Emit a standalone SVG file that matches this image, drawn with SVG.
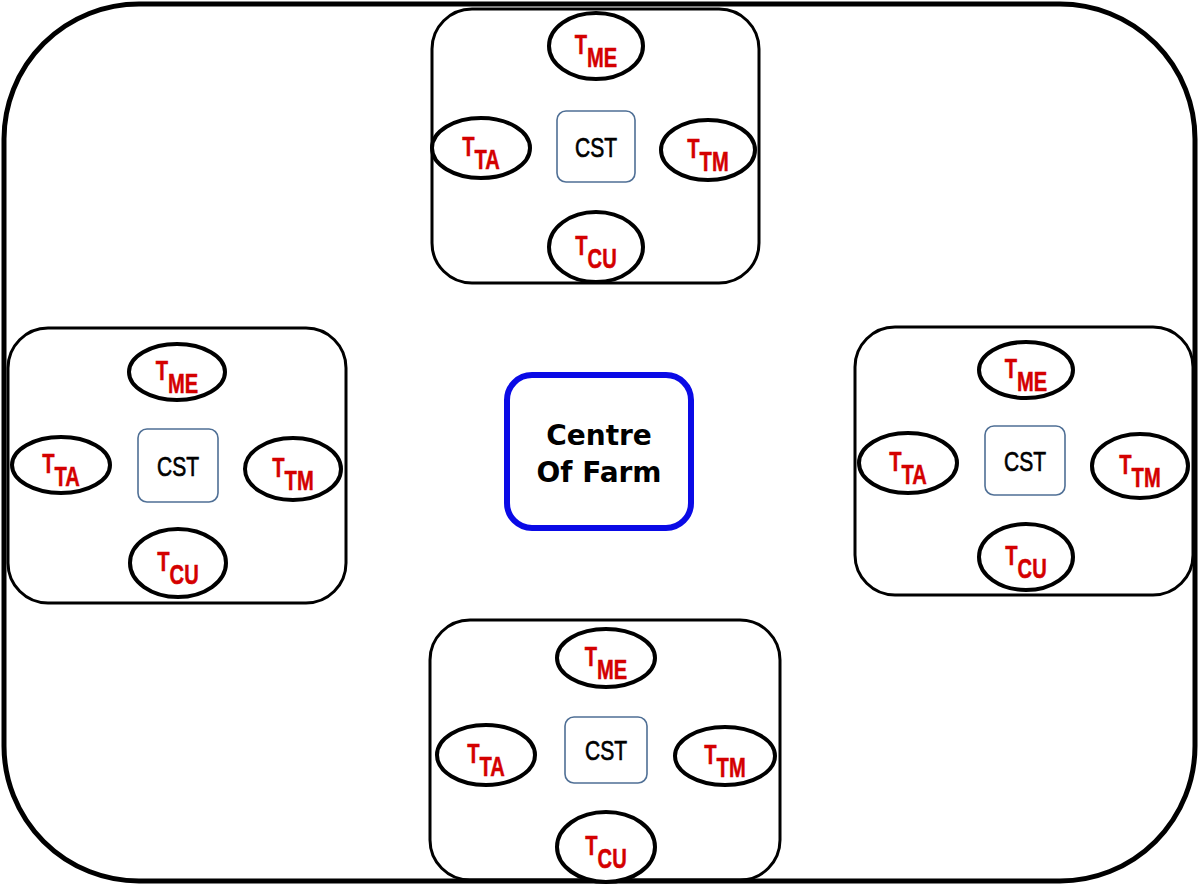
<svg xmlns="http://www.w3.org/2000/svg" width="1200" height="886" viewBox="0 0 1200 886">
<style>
.frame{fill:#fff;stroke:#000;stroke-width:5}
.box{fill:none;stroke:#000;stroke-width:3}
.ell{fill:#fff;stroke:#000;stroke-width:4}
.cst{fill:#fff;stroke:#4f6f95;stroke-width:1.6}
.lbl{font-family:"Liberation Sans",Arial,sans-serif;font-weight:bold;font-size:28px;fill:#d40000;stroke:#d40000;stroke-width:0.5}
.cstt{font-family:"Liberation Sans",Arial,sans-serif;font-size:28px;fill:#000;stroke:#000;stroke-width:0.7}
.ctr{fill:#fff;stroke:#0a0ae6;stroke-width:6}
.ctrt{font-family:"DejaVu Sans",Verdana,sans-serif;font-weight:bold;font-size:28px;fill:#000}
</style>
<rect class="frame" x="4" y="4" width="1191" height="877" rx="135" ry="135"/>
<g id="connectors"/>
<g id="centre">
<rect class="ctr" x="507" y="375" width="184" height="153" rx="25"/>
<text class="ctrt" x="599" y="445" text-anchor="middle">Centre</text>
<text class="ctrt" x="599" y="482" text-anchor="middle">Of Farm</text>
</g>

<g id="cluster-top">
<rect class="box" x="432" y="9" width="327" height="274" rx="40"/>
<g id="top-tme"><ellipse class="ell" cx="596" cy="46" rx="47" ry="33"/><text class="lbl" transform="translate(596 46) scale(0.72 1)" x="0" y="8" text-anchor="middle">T<tspan dy="13">ME</tspan></text></g>
<g id="top-tta"><ellipse class="ell" cx="481" cy="148" rx="49" ry="30"/><text class="lbl" transform="translate(481 148) scale(0.72 1)" x="0" y="8" text-anchor="middle">T<tspan dy="13">TA</tspan></text></g>
<g id="top-ttm"><ellipse class="ell" cx="708" cy="150" rx="47" ry="30"/><text class="lbl" transform="translate(708 150) scale(0.72 1)" x="0" y="8" text-anchor="middle">T<tspan dy="13">TM</tspan></text></g>
<g id="top-tcu"><ellipse class="ell" cx="596" cy="247" rx="47" ry="35"/><text class="lbl" transform="translate(596 247) scale(0.72 1)" x="0" y="8" text-anchor="middle">T<tspan dy="13">CU</tspan></text></g>
<g id="top-cst"><rect class="cst" x="557" y="111" width="78" height="71" rx="9"/><text class="cstt" transform="translate(596 146.5) scale(0.75 1)" x="0" y="10" text-anchor="middle">CST</text></g>
</g>

<g id="cluster-left">
<rect class="box" x="8" y="328" width="338" height="275" rx="40"/>
<g id="left-tme"><ellipse class="ell" cx="177" cy="372" rx="48" ry="28"/><text class="lbl" transform="translate(177 372) scale(0.72 1)" x="0" y="8" text-anchor="middle">T<tspan dy="13">ME</tspan></text></g>
<g id="left-tta"><ellipse class="ell" cx="61" cy="465" rx="49" ry="28"/><text class="lbl" transform="translate(61 465) scale(0.72 1)" x="0" y="8" text-anchor="middle">T<tspan dy="13">TA</tspan></text></g>
<g id="left-ttm"><ellipse class="ell" cx="293" cy="469" rx="48" ry="31"/><text class="lbl" transform="translate(293 469) scale(0.72 1)" x="0" y="8" text-anchor="middle">T<tspan dy="13">TM</tspan></text></g>
<g id="left-tcu"><ellipse class="ell" cx="178" cy="563" rx="48" ry="34"/><text class="lbl" transform="translate(178 563) scale(0.72 1)" x="0" y="8" text-anchor="middle">T<tspan dy="13">CU</tspan></text></g>
<g id="left-cst"><rect class="cst" x="138" y="429" width="80" height="73" rx="9"/><text class="cstt" transform="translate(178 465.5) scale(0.75 1)" x="0" y="10" text-anchor="middle">CST</text></g>
</g>

<g id="cluster-right">
<rect class="box" x="855" y="327" width="338" height="268" rx="40"/>
<g id="right-tme"><ellipse class="ell" cx="1026" cy="370" rx="47" ry="28"/><text class="lbl" transform="translate(1026 370) scale(0.72 1)" x="0" y="8" text-anchor="middle">T<tspan dy="13">ME</tspan></text></g>
<g id="right-tta"><ellipse class="ell" cx="908" cy="463" rx="49" ry="30"/><text class="lbl" transform="translate(908 463) scale(0.72 1)" x="0" y="8" text-anchor="middle">T<tspan dy="13">TA</tspan></text></g>
<g id="right-ttm"><ellipse class="ell" cx="1140" cy="466" rx="48" ry="32"/><text class="lbl" transform="translate(1140 466) scale(0.72 1)" x="0" y="8" text-anchor="middle">T<tspan dy="13">TM</tspan></text></g>
<g id="right-tcu"><ellipse class="ell" cx="1026" cy="557" rx="47" ry="33"/><text class="lbl" transform="translate(1026 557) scale(0.72 1)" x="0" y="8" text-anchor="middle">T<tspan dy="13">CU</tspan></text></g>
<g id="right-cst"><rect class="cst" x="985" y="426" width="80" height="69" rx="9"/><text class="cstt" transform="translate(1025 460.5) scale(0.75 1)" x="0" y="10" text-anchor="middle">CST</text></g>
</g>

<g id="cluster-bottom">
<rect class="box" x="430" y="620" width="350" height="260" rx="40"/>
<g id="bottom-tme"><ellipse class="ell" cx="606" cy="658" rx="49" ry="29"/><text class="lbl" transform="translate(606 658) scale(0.72 1)" x="0" y="8" text-anchor="middle">T<tspan dy="13">ME</tspan></text></g>
<g id="bottom-tta"><ellipse class="ell" cx="486" cy="755" rx="49" ry="30"/><text class="lbl" transform="translate(486 755) scale(0.72 1)" x="0" y="8" text-anchor="middle">T<tspan dy="13">TA</tspan></text></g>
<g id="bottom-ttm"><ellipse class="ell" cx="725" cy="756" rx="50" ry="29"/><text class="lbl" transform="translate(725 756) scale(0.72 1)" x="0" y="8" text-anchor="middle">T<tspan dy="13">TM</tspan></text></g>
<g id="bottom-tcu"><ellipse class="ell" cx="606" cy="847" rx="49" ry="35"/><text class="lbl" transform="translate(606 847) scale(0.72 1)" x="0" y="8" text-anchor="middle">T<tspan dy="13">CU</tspan></text></g>
<g id="bottom-cst"><rect class="cst" x="565" y="717" width="82" height="66" rx="9"/><text class="cstt" transform="translate(606 750) scale(0.75 1)" x="0" y="10" text-anchor="middle">CST</text></g>
</g>
</svg>
